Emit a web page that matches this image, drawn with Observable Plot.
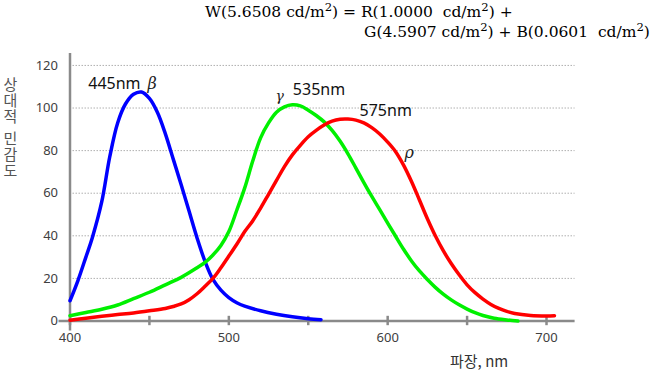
<!DOCTYPE html>
<html><head><meta charset="utf-8">
<script src="https://cdn.jsdelivr.net/npm/d3@7"></script>
<script src="https://cdn.jsdelivr.net/npm/@observablehq/plot@0.6"></script>
<style>
html,body{margin:0;padding:0;background:#fff;}
#wrap{position:relative;width:654px;height:376px;overflow:hidden;background:#fff;}
#wrap svg{position:absolute;left:0;top:0;}
.title{position:absolute;font-family:"DejaVu Serif",serif;font-size:15.5px;color:#000;white-space:pre;line-height:20px;height:20px;}
.title sup{font-size:0.75em;line-height:0;vertical-align:0.5em;}
.ylab{position:absolute;left:2px;top:77px;writing-mode:vertical-rl;text-orientation:upright;font-family:"Noto Sans CJK KR",sans-serif;font-size:15px;color:#555;line-height:16px;letter-spacing:1px;}
.ylab .gap{font-size:6px;letter-spacing:0;}
.xlab{position:absolute;left:450px;top:351px;font-family:"Noto Sans CJK KR",sans-serif;font-size:15px;color:#333;line-height:20px;white-space:pre;}
</style></head><body>
<div id="wrap">
  <div class="title" style="left:205px;top:2px;">W(5.6508 cd/m<sup>2</sup>) = R(1.0000  cd/m<sup>2</sup>) +</div>
  <div class="title" style="left:364px;top:22px;">G(4.5907 cd/m<sup>2</sup>) + B(0.0601  cd/m<sup>2</sup>)</div>
  <div class="ylab">상대적<span class="gap"> </span>민감도</div>
  <div class="xlab">파장, nm</div>
</div>
<script>
// Tick values
const xTickLabels = [400, 500, 600, 700];
const xTickMarks = [400, 450, 500, 550, 600, 650, 700];
const yTicks = [0, 20, 40, 60, 80, 100, 120];

// β (blue) cone
const blueNm  = [400, 405, 410, 414, 420, 425, 430, 435, 440, 445, 450, 455, 460, 465, 470, 475, 480, 485, 490, 495, 500, 505, 510, 520, 530, 540, 550, 558];
const blueVal = [9.5, 19, 30, 39, 56, 77, 93, 102, 106.5, 107.5, 104.5, 98, 88, 76, 64, 51.5, 39, 28, 19.5, 14.5, 11, 8.6, 7, 4.8, 3.2, 2, 1.1, 0.6];

// γ (green) cone
const greenNm  = [400, 410, 420, 430, 440, 450, 460, 470, 480, 485, 490, 495, 500, 505, 510, 515, 520, 525, 530, 535, 540, 545, 550, 555, 560, 565, 570, 575, 580, 585, 590, 595, 600, 605, 610, 615, 620, 625, 630, 635, 640, 645, 650, 655, 660, 667, 675, 682];
const greenVal = [2.5, 4, 5.5, 7.5, 10.5, 13.5, 17, 20.5, 25, 27.5, 31, 35.5, 42, 52, 62.5, 75, 86, 93, 98, 100.5, 101.5, 101, 99, 96.5, 93.5, 89.5, 84.5, 78.5, 71.8, 65, 58.5, 52.3, 46, 39.8, 33.7, 28.2, 23.5, 19.5, 15.8, 12.6, 9.9, 7.6, 5.6, 3.9, 2.6, 1.3, 0.5, 0];

// ρ (red) cone
const redNm  = [400, 410, 420, 430, 440, 450, 460, 465, 470, 475, 480, 485, 490, 495, 500, 505, 510, 515, 520, 525, 530, 535, 540, 545, 550, 555, 560, 565, 570, 575, 580, 585, 590, 595, 600, 605, 610, 615, 620, 625, 630, 635, 640, 645, 650, 655, 660, 665, 670, 675, 680, 690, 700, 705];
const redVal = [0.4, 1.3, 2.2, 3, 3.8, 4.8, 5.9, 6.8, 8, 10, 12.8, 16.3, 20, 25, 30.5, 36, 42, 47, 53, 59.5, 66, 72.5, 78, 82.5, 86.5, 89.5, 92, 93.8, 94.7, 94.8, 94.3, 93, 90.8, 87.8, 84, 79.5, 73.2, 65.5, 56.8, 48, 40, 33, 27, 21.7, 17, 13.3, 10.3, 7.8, 5.9, 4.5, 3.5, 2.6, 2.4, 2.5];

// Peak annotations
const peakText = ["445nm", "535nm", "575nm"];
const peakNm   = [411.5, 540.3, 582.3];
const peakVal  = [108.9, 106.2, 96.4];
const greekText = ["β", "γ", "ρ"];
const greekNm   = [448.8, 529.4, 610.6];
const greekVal  = [109, 103.5, 76.5];

const rows = (nm, val) => nm.map((n, i) => ({nm: n, v: val[i]}));
const blue = rows(blueNm, blueVal);
const green = rows(greenNm, greenVal);
const red = rows(redNm, redVal);
const peaks = peakText.map((t, i) => ({t, nm: peakNm[i], v: peakVal[i]}));
const greeks = greekText.map((t, i) => ({t, nm: greekNm[i], v: greekVal[i], s: i === 1 ? 14 : 16}));

const axisColor = "#8a8a8a";
const chart = Plot.plot({
  width: 654,
  height: 376,
  marginLeft: 69.5,
  marginRight: 79.4,
  marginTop: 53,
  marginBottom: 55.5,
  x: {domain: [400, 718]},
  y: {domain: [0, 125.6]},
  style: {fontFamily: "'Noto Sans', sans-serif", fontSize: "13px", color: "#404040", background: "transparent"},
  marks: [
    Plot.ruleY(yTicks.filter(d => d > 0), {stroke: "#b0b0b0", strokeWidth: 1, strokeDasharray: "1.5,1.5"}),
    Plot.axisY({ticks: yTicks, tickSize: 0, tickPadding: 12, label: null, fontSize: 13}),
    Plot.axisX({ticks: xTickLabels, tickSize: 0, tickPadding: 12, label: null, fontSize: 13}),
    Plot.ruleY([0], {stroke: axisColor, strokeWidth: 2.5, insetLeft: -11}),
    Plot.ruleX([400], {stroke: axisColor, strokeWidth: 2.5, insetBottom: -10}),
    Plot.ruleX(xTickMarks, {y1: -2.2, y2: 2.2, stroke: axisColor, strokeWidth: 2.5}),
    Plot.line(blue, {x: "nm", y: "v", stroke: "#0000ff", strokeWidth: 3.5, curve: "catmull-rom"}),
    Plot.line(green, {x: "nm", y: "v", stroke: "#00f000", strokeWidth: 3.5, curve: "catmull-rom"}),
    Plot.line(red, {x: "nm", y: "v", stroke: "#ff0000", strokeWidth: 3.5, curve: "catmull-rom"}),
    Plot.text(peaks, {x: "nm", y: "v", text: "t", textAnchor: "start", lineAnchor: "bottom", fontSize: 16, fill: "#111", fontFamily: "'Noto Sans', sans-serif"}),
    Plot.text(greeks, {x: "nm", y: "v", text: "t", textAnchor: "start", lineAnchor: "bottom", fontSize: "s", fill: "#222", fontStyle: "italic", fontFamily: "'DejaVu Serif', serif"})
  ]
});
document.getElementById("wrap").prepend(chart);
</script>
</body></html>
